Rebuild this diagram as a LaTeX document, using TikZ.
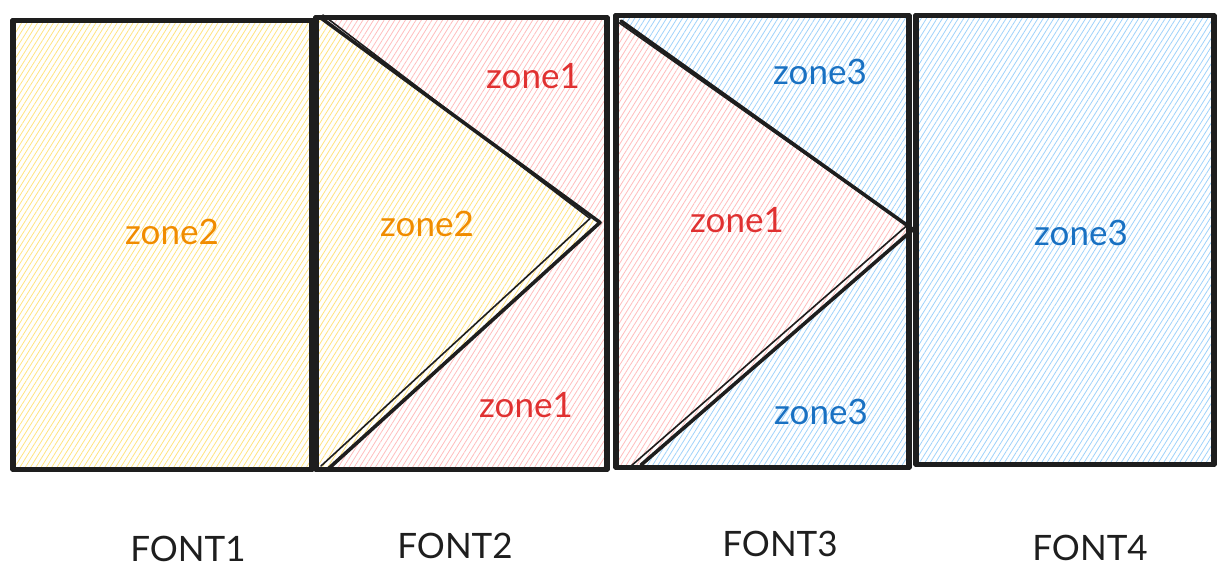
\documentclass[tikz,border=0pt]{standalone}
\usepackage{fontspec}
\setmainfont{Lato}
\usepackage{xcolor}
\usepackage{tikz}
\usetikzlibrary{positioning,patterns.meta,calc}

\definecolor{ink}{HTML}{1E1E1E}
\definecolor{zonered}{HTML}{E03131}
\definecolor{zoneorange}{HTML}{F08C00}
\definecolor{zoneblue}{HTML}{1971C2}
\definecolor{hatchyellow}{HTML}{FFE380}
\definecolor{hatchred}{HTML}{FFBDBD}
\definecolor{hatchblue}{HTML}{9FD2FA}

\begin{document}
\begin{tikzpicture}[x=1pt,y=-1pt,
		panel/.style={inner sep=0pt, outer sep=0pt, minimum width=#1},
		hatch/.style={pattern={Lines[angle=58,distance=4.5pt,line width=0.8pt]}, pattern color=#1},
		sketch/.style={draw=ink, line width=3.6pt, line join=round, line cap=round},
		rough/.style={draw=ink, line width=1.6pt, line join=round, line cap=round},
		zone/.style={font=\fontsize{35}{40}\selectfont, text=#1},
		caption/.style={font=\fontsize{35}{42}\selectfont, text=ink}]
	\useasboundingbox (0,0) rectangle (1226,584);

	% the four panels
	\node[panel=301pt, minimum height=450pt, hatch=hatchyellow] (p1) at (162.5,245) {};
	\node[panel=293pt, minimum height=453pt, hatch=hatchred] (p2) at (461.5,243.5) {};
	\node[panel=295pt, minimum height=453pt, hatch=hatchblue] (p3) at (762.5,241.5) {};
	\node[panel=300pt, minimum height=450pt, hatch=hatchblue] (p4) at (1065,240) {};

	% wedges
	\coordinate (t2a) at ($(p2.north west)+(6,1)$);
	\coordinate (t2b) at ($(p2.east)+(-8,-21)$);
	\coordinate (t2c) at ($(p2.south west)+(12,0)$);
	\coordinate (t3a) at ($(p3.north west)+(6,6)$);
	\coordinate (t3b) at ($(p3.east)+(3,-12)$);
	\coordinate (t3c) at ($(p3.south west)+(26,-3)$);

	\fill[white] (p2.north west) -- (t2a) -- (t2b) -- (t2c) -- (p2.south west) -- cycle;
	\fill[hatch=hatchyellow] (p2.north west) -- (t2a) -- (t2b) -- (t2c) -- (p2.south west) -- cycle;
	\fill[white] (p3.north west) -- (t3a) -- (t3b) -- (t3c) -- (p3.south west) -- cycle;
	\fill[hatch=hatchred] (p3.north west) -- (t3a) -- (t3b) -- (t3c) -- (p3.south west) -- cycle;

	\draw[sketch] (t2a) -- (t2b) -- (t2c);
	\draw[rough] ($(t2a)+(2,-3)$) -- ($(t2b)+(-10,-4)$) -- ($(t2c)+(-6,-4)$);
	\draw[sketch] (t3a) -- (t3b) -- (t3c);
	\draw[rough] ($(t3a)+(-3,1)$) -- ($(t3b)+(-6,-4)$) -- ($(t3c)+(-10,1)$);

	% outlines
	\foreach \p in {p1,p2,p3,p4} {
		\draw[sketch] (\p.north west) rectangle (\p.south east);
		\draw[rough] ($(\p.north west)+(3,2)$) rectangle ($(\p.south east)+(-3,-2)$);
	}

	% zone labels
	\node[zone=zoneorange] (z1) at (172,232) {zone2};
	\node[zone=zoneorange] (z2) at (427,224) {zone2};
	\node[zone=zonered] (z3) at (533,76) {zone1};
	\node[zone=zonered] (z4) at (526,405) {zone1};
	\node[zone=zonered] (z5) at (737,220) {zone1};
	\node[zone=zoneblue] (z6) at (820,72) {zone3};
	\node[zone=zoneblue] (z7) at (821,412) {zone3};
	\node[zone=zoneblue] (z8) at (1081,233) {zone3};

	% captions
	\node[caption] (f1) at (188,549) {FONT1};
	\node[caption] (f2) at (455,546) {FONT2};
	\node[caption] (f3) at (780,544) {FONT3};
	\node[caption] (f4) at (1090,548) {FONT4};
\end{tikzpicture}
\end{document}
